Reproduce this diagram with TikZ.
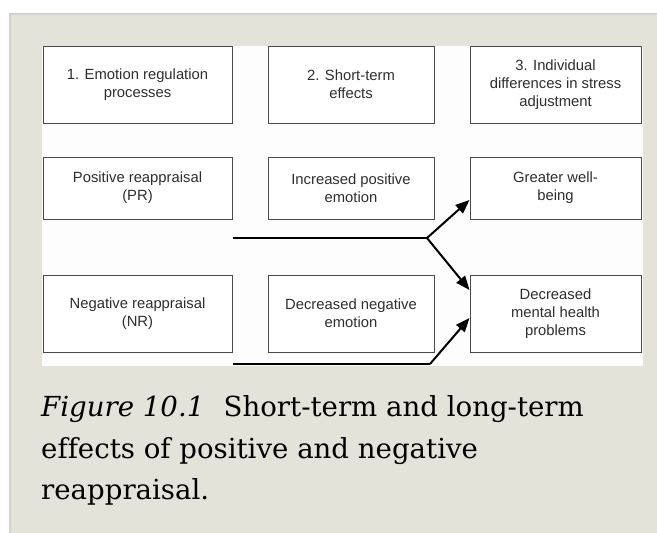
\documentclass[tikz,border=0pt]{standalone}
\usepackage{fontspec}
\setmainfont{DejaVu Serif}[Ligatures=NoCommon]
\newfontfamily\boxfont{Liberation Sans}[Ligatures=NoCommon]
\usetikzlibrary{arrows.meta,calc}
\definecolor{panelgrey}{HTML}{E5E2D9}
\definecolor{panelborder}{HTML}{D2D2D0}
\definecolor{areawhite}{HTML}{FCFDFC}
\definecolor{boxline}{HTML}{4A4A4A}
\definecolor{boxtext}{HTML}{2E2E2E}
\tikzset{
  stagebox/.style={draw=boxline, line width=1pt, fill=white, align=center,
    font=\boxfont\fontsize{14.8}{17.7}\selectfont, text=boxtext, inner sep=0pt},
  wideA/.style={minimum width=189pt},
  wideB/.style={minimum width=166pt},
  wideC/.style={minimum width=171pt},
  tall/.style={minimum height=77pt},
  short/.style={minimum height=62pt},
  conn/.style={line width=2pt, black},
  arr/.style={conn, -{Triangle[length=14pt,width=11pt]}},
  caption/.style={anchor=base west, inner sep=0pt, font=\fontsize{27.6}{41.5}\selectfont, text=black}
}
\begin{document}
\begin{tikzpicture}[x=1pt,y=-1pt]
\useasboundingbox (0,0) rectangle (657,533);
\fill[white] (0,0) rectangle (657,533);
\fill[panelgrey] (9,13) rectangle (657,533);
\draw[panelborder, line width=1.5pt] (9.75,533) -- (9.75,13.75) -- (657,13.75);
\fill[areawhite] (42,46) rectangle (643,366);
% row 1
\node[stagebox,wideA,tall] (h1) at (137.5,84.5) {1. Emotion regulation\\processes};
\node[stagebox,wideB,tall] (h2) at (351,84.5) {2. Short-term\\effects};
\node[stagebox,wideC,tall] (h3) at (555.5,84.5) {3. Individual\\differences in stress\\adjustment};
% row 2
\node[stagebox,wideA,short] (pr) at (137.5,188) {Positive reappraisal\\(PR)};
\node[stagebox,wideB,short] (ipe) at (351,188) {Increased positive\\emotion};
\node[stagebox,wideC,short] (gw) at (555.5,188) {Greater well-\\being};
% row 3
\node[stagebox,wideA,tall] (nr) at (137.5,313.5) {Negative reappraisal\\(NR)};
\node[stagebox,wideB,tall] (dne) at (351,313.5) {Decreased negative\\emotion};
\node[stagebox,wideC,tall] (dmh) at (555.5,313.5) {Decreased\\mental health\\problems};
% connectors
\coordinate (j1) at (427,238);
\coordinate (j2) at (430,364);
\coordinate (t1) at ([yshift=-12pt]gw.west);
\coordinate (t2) at ([yshift=23.5pt]dmh.west);
\coordinate (t3) at ([yshift=-4.5pt]dmh.west);
\draw[conn] (pr.east |- j1) -- (j1);
\draw[arr] (j1) -- (t1);
\draw[arr] (j1) -- (t2);
\draw[conn] (nr.east |- j2) -- (j2);
\draw[arr] (j2) -- (t3);
% caption
\node[caption] (c1) at (41,416) {\textit{Figure 10.1}\hspace{0.7em}Short-term and long-term};
\node[caption] (c2) at (41,458) {effects of positive and negative};
\node[caption] (c3) at (41,499) {reappraisal.};
\end{tikzpicture}
\end{document}
